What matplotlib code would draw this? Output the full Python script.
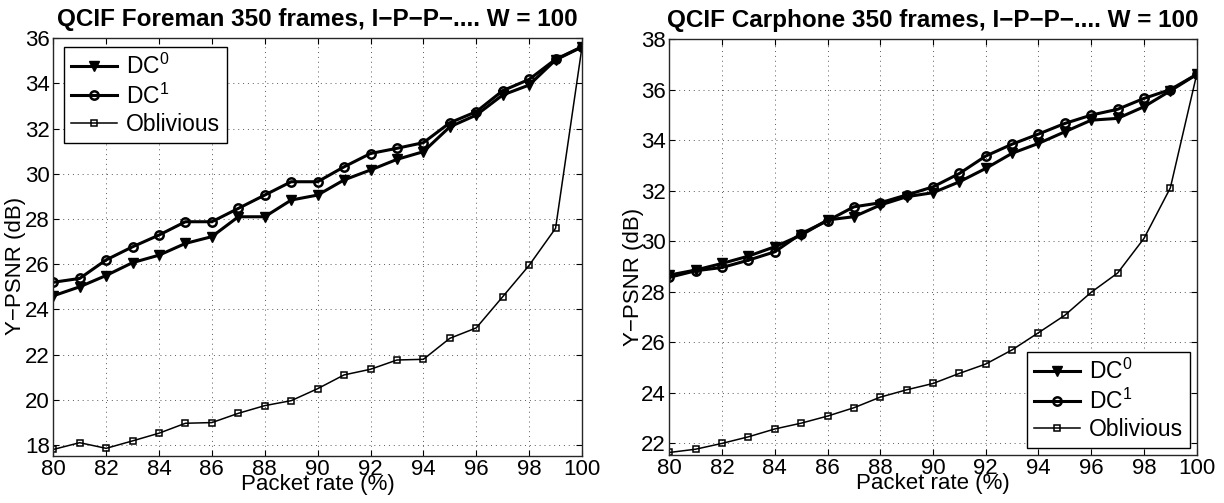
import numpy as np
import matplotlib
matplotlib.use('Agg')
import matplotlib.pyplot as plt

## Data ##
packet_rate = list(range(80, 101))

foreman_dc0 = [24.6, 25.0, 25.5, 26.07, 26.4, 26.92, 27.22, 28.1, 28.1, 28.84, 29.06,
               29.73, 30.17, 30.64, 30.98, 32.08, 32.6, 33.49, 33.93, 35.04, 35.62]
foreman_dc1 = [25.2, 25.37, 26.19, 26.77, 27.29, 27.88, 27.88, 28.47, 29.06, 29.65, 29.65,
               30.31, 30.9, 31.13, 31.38, 32.26, 32.75, 33.68, 34.18, 35.07, 35.62]
foreman_obl = [17.8, 18.1, 17.85, 18.18, 18.52, 18.96, 18.99, 19.4, 19.74, 19.96, 20.49,
               21.1, 21.35, 21.76, 21.79, 22.72, 23.18, 24.56, 25.95, 27.59, 35.62]

carphone_dc0 = [28.66, 28.86, 29.12, 29.41, 29.78, 30.24, 30.84, 30.97, 31.43, 31.76, 31.92,
                32.35, 32.88, 33.48, 33.87, 34.33, 34.79, 34.86, 35.32, 35.95, 36.6]
carphone_dc1 = [28.57, 28.83, 28.96, 29.25, 29.58, 30.3, 30.81, 31.36, 31.52, 31.83, 32.15,
                32.68, 33.37, 33.84, 34.24, 34.66, 34.99, 35.22, 35.65, 36.0, 36.6]
carphone_obl = [21.64, 21.77, 22.0, 22.26, 22.57, 22.8, 23.08, 23.41, 23.83, 24.12, 24.37,
                24.77, 25.14, 25.7, 26.38, 27.07, 27.98, 28.74, 30.11, 32.11, 36.6]

series_labels = ['DC$^0$', 'DC$^1$', 'Oblivious']
titles = ['QCIF Foreman 350 frames, I\u2212P\u2212P\u2212.... W = 100',
          'QCIF Carphone 350 frames, I\u2212P\u2212P\u2212.... W = 100']
x_label = 'Packet rate (%)'
y_label = 'Y\u2212PSNR (dB)'
x_ticks = list(range(80, 101, 2))
foreman_yticks = list(range(18, 37, 2))
carphone_yticks = list(range(22, 39, 2))

plt.rcParams['font.family'] = ['Liberation Sans', 'DejaVu Sans']
plt.rcParams['mathtext.fontset'] = 'custom'
plt.rcParams['mathtext.rm'] = 'Liberation Sans'
plt.rcParams['mathtext.it'] = 'Liberation Sans'


def draw_panel(ax, dc0, dc1, obl, title, yticks, ylim, legend_loc, legend_anchor, ylabel_pos):
    ax.plot(packet_rate, dc0, color='black', lw=2.2, marker='v', ms=7.5,
            mfc='black', mec='black', label=series_labels[0])
    ax.plot(packet_rate, dc1, color='black', lw=2.2, marker='o', ms=6,
            mfc='none', mec='black', mew=1.8, label=series_labels[1])
    ax.plot(packet_rate, obl, color='black', lw=1.1, marker='s', ms=5,
            mfc='none', mec='black', mew=1.1, label=series_labels[2])

    ax.set_xlim(80, 100)
    ax.set_ylim(*ylim)
    ax.set_xticks(x_ticks)
    ax.set_yticks(yticks)
    ax.tick_params(direction='in', length=4, width=0.8, labelsize=16,
                   top=True, right=True, pad=2.5)
    ax.grid(True, color='0.35', lw=0.7, linestyle=(0, (1, 4)))
    for sp in ax.spines.values():
        sp.set_linewidth(1.0)
        sp.set_color('0.15')

    ax.set_title(title, fontsize=17.5, fontweight='bold', pad=9)
    ax.set_xlabel(x_label, fontsize=16, labelpad=-5)
    ax.set_ylabel(y_label, fontsize=16, va='center')
    ax.yaxis.set_label_coords(*ylabel_pos)

    leg = ax.legend(loc=legend_loc, bbox_to_anchor=legend_anchor, borderaxespad=0,
                    fontsize=16.5, handlelength=2.0, handletextpad=0.4,
                    labelspacing=0.2, borderpad=0.3, fancybox=False,
                    framealpha=1, edgecolor='black')
    leg.get_frame().set_linewidth(1.0)


fig = plt.figure(figsize=(12.24, 5.03), dpi=100)
ax1 = fig.add_axes([0.0435, 0.0934, 0.432, 0.8305])
ax2 = fig.add_axes([0.5468, 0.0954, 0.4309, 0.827])

draw_panel(ax1, foreman_dc0, foreman_dc1, foreman_obl, titles[0],
           foreman_yticks, (17.51, 36), 'upper left', (0.0202, 0.980), (-0.0705, 0.455))
draw_panel(ax2, carphone_dc0, carphone_dc1, carphone_obl, titles[1],
           carphone_yticks, (21.54, 38), 'lower right', (0.9873, 0.016), (-0.068, 0.429))

fig.savefig('out.png', dpi=100)
